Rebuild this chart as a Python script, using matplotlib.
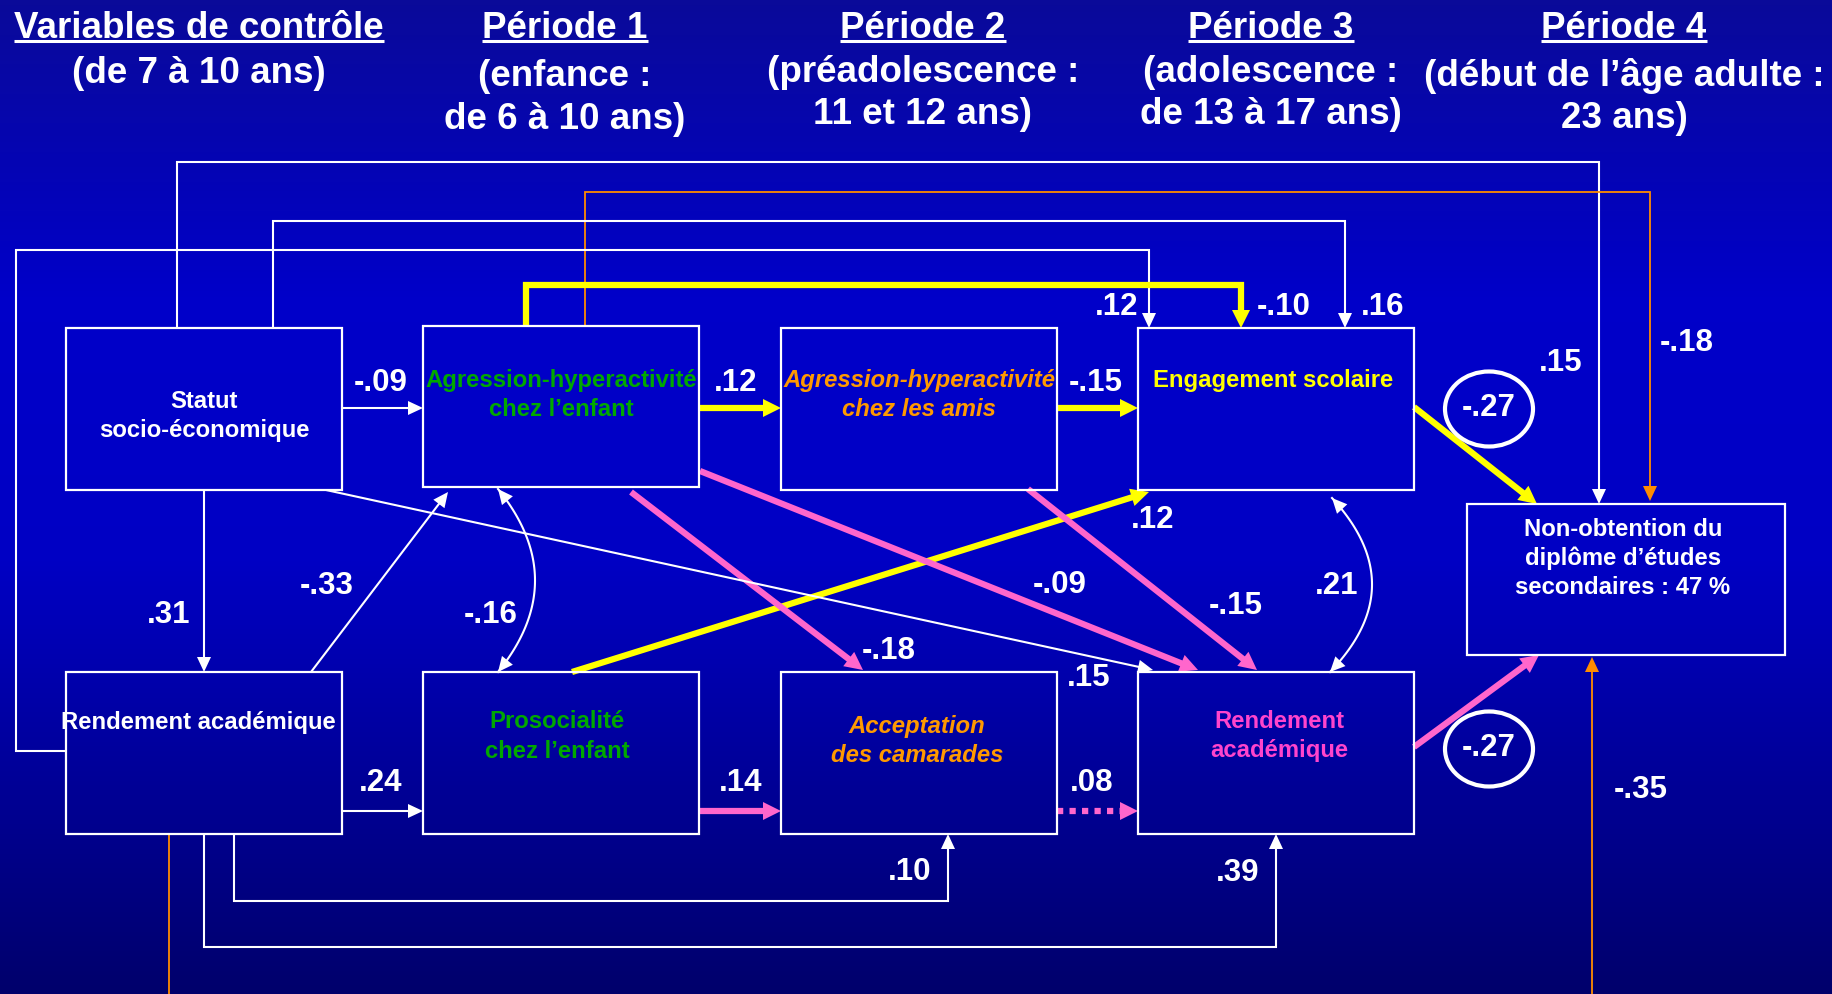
import numpy as np
import matplotlib
matplotlib.use('Agg')
import matplotlib.pyplot as plt
from matplotlib.patches import Rectangle, Ellipse, Polygon

plt.rcParams['font.family'] = ['Liberation Sans', 'DejaVu Sans']

W, H = 1833, 995

# ---- contenu ----
titles = ['Variables de contrôle', 'Période 1', 'Période 2', 'Période 3', 'Période 4']
subtitles = [['(de 7 à 10 ans)'],
             ['(enfance :', 'de 6 à 10 ans)'],
             ['(préadolescence :', '11 et 12 ans)'],
             ['(adolescence :', 'de 13 à 17 ans)'],
             ['(début de l’âge adulte :', '23 ans)']]

box_ids = ['ses', 'agr', 'amis', 'eng', 'rend0', 'pro', 'acc', 'rend', 'dipl']
box_text = ['Statut\nsocio-économique',
            'Agression-hyperactivité\nchez l’enfant',
            'Agression-hyperactivité\nchez les amis',
            'Engagement scolaire',
            'Rendement académique',
            'Prosocialité\nchez l’enfant',
            'Acceptation\ndes camarades',
            'Rendement\nacadémique',
            'Non-obtention du\ndiplôme d’études\nsecondaires : 47 %']

# coefficients (source, cible, valeur)
path_src = ['ses', 'agr', 'amis', 'ses', 'rend0', 'agr', 'rend0', 'pro', 'acc',
            'pro', 'agr', 'agr', 'amis', 'ses', 'eng', 'eng', 'rend',
            'ses', 'agr', 'ses', 'rend0', 'agr', 'rend0', 'rend0', 'rend0']
path_dst = ['agr', 'amis', 'eng', 'rend0', 'agr', 'pro', 'pro', 'acc', 'rend',
            'eng', 'acc', 'rend', 'rend', 'rend', 'rend', 'dipl', 'dipl',
            'dipl', 'dipl', 'eng', 'eng', 'eng', 'acc', 'rend', 'dipl']
path_coef = ['-.09', '.12', '-.15', '.31', '-.33', '-.16', '.24', '.14', '.08',
             '.12', '-.18', '-.09', '-.15', '.15', '.21', '-.27', '-.27',
             '.15', '-.18', '.16', '.12', '-.10', '.10', '.39', '-.35']
path_kind = ['white', 'yellow', 'yellow', 'white', 'white', 'white', 'white', 'pink', 'pinkdot',
             'yellow', 'pink', 'pink', 'pink', 'white', 'white', 'yellow', 'pink',
             'white', 'orange', 'white', 'white', 'yellow', 'white', 'white', 'orange']
circled = [15, 16]

# ---- mise en page (pixels) ----
col_x = [199, 565, 923, 1271, 1624]
title_base = 38
sub_base = [[83], [86, 129], [82, 124], [82, 124], [86, 128]]

box_rect = dict(ses=(66, 329, 342, 491), agr=(423, 327, 699, 488), amis=(781, 329, 1057, 491),
                eng=(1138, 329, 1414, 491), rend0=(66, 673, 342, 835), pro=(423, 673, 699, 835),
                acc=(781, 673, 1057, 835), rend=(1138, 673, 1414, 835), dipl=(1467, 505, 1785, 656))
box_txt_pos = dict(ses=(204, 401), agr=(561, 380), amis=(919, 380), eng=(1273, 381),
                   rend0=(198, 722), pro=(557, 722), acc=(917, 727), rend=(1279, 722),
                   dipl=(1623, 529))
box_style = dict(ses=('white', 'normal'), agr=('#00a800', 'normal'), amis=('#ff9900', 'italic'),
                 eng=('#ffff00', 'normal'), rend0=('white', 'normal'), pro=('#00a800', 'normal'),
                 acc=('#ff9900', 'italic'), rend=('#ff44cc', 'normal'), dipl=('white', 'normal'))

routes = [
    [(342, 409), (423, 409)],
    [(699, 409), (781, 409)],
    [(1057, 409), (1138, 409)],
    [(204, 491), (204, 673)],
    [(311, 673), (448, 493)],
    [(498, 490), (498, 673)],
    [(342, 812), (423, 812)],
    [(699, 812), (781, 812)],
    [(1057, 812), (1138, 812)],
    [(572, 673), (1149, 493)],
    [(631, 493), (863, 671)],
    [(700, 472), (1198, 671)],
    [(1028, 490), (1257, 671)],
    [(326, 491), (1153, 671)],
    [(1332, 499), (1330, 673)],
    [(1414, 408), (1537, 505)],
    [(1414, 748), (1539, 656)],
    [(177, 329), (177, 163), (1599, 163), (1599, 505)],
    [(585, 327), (585, 193), (1650, 193), (1650, 502)],
    [(273, 329), (273, 222), (1345, 222), (1345, 329)],
    [(66, 752), (16, 752), (16, 251), (1149, 251), (1149, 329)],
    [(526, 327), (526, 286), (1241, 286), (1241, 329)],
    [(234, 835), (234, 902), (948, 902), (948, 835)],
    [(204, 835), (204, 948), (1276, 948), (1276, 835)],
    [(169, 835), (169, 1020), (1592, 1020), (1592, 658)],
]
bulge = {5: 37, 14: 41}
lab_pos = [(381, 385), (736, 385), (1096, 385), (169, 617), (327, 588), (491, 617),
           (381, 785), (741, 785), (1092, 785), (1153, 522), (889, 653), (1060, 587),
           (1236, 608), (1089, 680), (1337, 588), (1489, 410), (1489, 750), (1561, 365),
           (1687, 345), (1383, 309), (1117, 309), (1284, 309), (910, 874), (1238, 875),
           (1641, 792)]

styles = {  # couleur, épaisseur, longueur tête, demi-largeur tête, style
    'white': ('white', 1.5, 15, 7, '-'),
    'yellow': ('#ffff00', 4.5, 18, 9, '-'),
    'pink': ('#ff66cc', 4.5, 18, 9, '-'),
    'pinkdot': ('#ff66cc', 4.5, 18, 9, (0, (1, 1))),
    'orange': ('#ff8c00', 1.3, 15, 7, '-'),
}

fig = plt.figure(figsize=(W / 100, H / 100), dpi=100)
ax = fig.add_axes([0, 0, 1, 1])

# fond dégradé
yy = np.arange(H)
gy = [0, 300, 560, 995]
blue = np.interp(yy, gy, [0.60, 0.79, 0.77, 0.42])
rg = np.interp(yy, gy, [0.04, 0.0, 0.0, 0.0])
bg = np.stack([rg, rg, blue], axis=1)[:, None, :]
ax.imshow(bg, extent=[0, W, H, 0], aspect='auto', zorder=0)
ax.set_xlim(0, W)
ax.set_ylim(H, 0)
ax.axis('off')


def head(tip, direction, L, w, color):
    tip = np.asarray(tip, float)
    u = np.asarray(direction, float)
    u = u / np.hypot(*u)
    n = np.array([-u[1], u[0]])
    base = tip - L * u
    ax.add_patch(Polygon([tip, base + w * n, base - w * n], closed=True,
                         facecolor=color, edgecolor='none', zorder=4))
    return base


def draw_edge(route, kind, b=0):
    color, lw, L, w, ls = styles[kind]
    pts = np.array(route, float)
    if b:
        p0, p2 = pts
        d = p2 - p0
        nrm = np.array([-d[1], d[0]]) / np.hypot(*d)
        if nrm[0] < 0:
            nrm = -nrm
        c = (p0 + p2) / 2 + 2 * b * nrm
        t = np.linspace(0, 1, 80)[:, None]
        curve = (1 - t) ** 2 * p0 + 2 * t * (1 - t) * c + t ** 2 * p2
        ax.plot(curve[:, 0], curve[:, 1], color=color, lw=lw, zorder=3)
        head(p0, p0 - c, L, w, color)
        head(p2, p2 - c, L, w, color)
        return
    base = head(pts[-1], pts[-1] - pts[-2], L, w, color)
    end = base + 0.25 * (pts[-1] - base) if ls == '-' else base
    line = np.vstack([pts[:-1], end])
    ax.plot(line[:, 0], line[:, 1], color=color, lw=lw, ls=ls,
            solid_capstyle='butt', dash_capstyle='butt', solid_joinstyle='miter', zorder=3)


# boîtes
for bid, txt in zip(box_ids, box_text):
    x0, y0, x1, y1 = box_rect[bid]
    ax.add_patch(Rectangle((x0, y0), x1 - x0, y1 - y0, fill=False, edgecolor='white', lw=1.6, zorder=5))
    tx, ty = box_txt_pos[bid]
    col, sty = box_style[bid]
    for i, line in enumerate(txt.split('\n')):
        ax.text(tx, ty + i * 29, line, color=col, style=sty, fontsize=17.2, fontweight='bold',
                ha='center', va='center', zorder=6)

# flèches et coefficients
for i, (r, k, c) in enumerate(zip(routes, path_kind, path_coef)):
    draw_edge(r, k, bulge.get(i, 0))
    lx, ly = lab_pos[i]
    ax.text(lx, ly - 2, c, color='white', fontsize=22.5, fontweight='bold',
            ha='center', va='center', zorder=6)
    if i in circled:
        ax.add_patch(Ellipse((lx, ly), 88, 75, fill=False, edgecolor='white', lw=3, zorder=6))

# titres de colonnes
title_objs = []
for x, t, subs, sb in zip(col_x, titles, subtitles, sub_base):
    title_objs.append(ax.text(x, title_base, t, color='white', fontsize=26.5, fontweight='bold',
                              ha='center', va='baseline'))
    for s, yb in zip(subs, sb):
        ax.text(x, yb, s, color='white', fontsize=26.5, fontweight='bold', ha='center', va='baseline')

fig.canvas.draw()
rend = fig.canvas.get_renderer()
inv = ax.transData.inverted()
for t in title_objs:
    bb = t.get_window_extent(rend)
    (xa, _), (xb, _) = inv.transform([(bb.x0, bb.y0), (bb.x1, bb.y0)])
    ax.plot([xa, xb], [42, 42], color='white', lw=2.2, solid_capstyle='butt')

fig.savefig('out.png', dpi=100, facecolor='#000080')
